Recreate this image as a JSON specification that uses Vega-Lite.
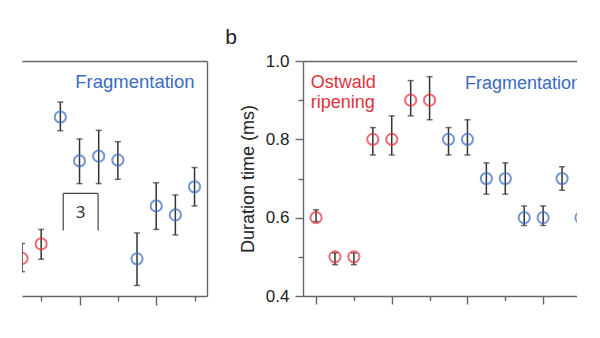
{
  "$schema": "https://vega.github.io/schema/vega-lite/v6.json",
  "padding": {"left": 22, "top": 27, "right": 0, "bottom": 0},
  "spacing": 18,
  "background": "white",
  "config": {
    "view": {"stroke": null},
    "font": "Liberation Sans",
    "axis": {
      "domainColor": "#666666", "tickColor": "#666666", "domainWidth": 1.4, "tickWidth": 1.4,
      "labelFont": "Liberation Sans", "labelFontSize": 17, "labelColor": "#222222",
      "titleFont": "Liberation Sans", "titleFontSize": 18, "titleFontWeight": "normal", "titleColor": "#222222",
      "grid": false
    },
    "title": {"font": "Liberation Sans", "fontSize": 21, "fontWeight": "normal", "color": "#222222"}
  },
  "datasets": {
    "a": [
      {"x": 0, "value": 0.496, "lo": 0.462, "hi": 0.534, "series": "Ostwald ripening"},
      {"x": 1, "value": 0.533, "lo": 0.494, "hi": 0.570, "series": "Ostwald ripening"},
      {"x": 2, "value": 0.857, "lo": 0.822, "hi": 0.895, "series": "Fragmentation"},
      {"x": 3, "value": 0.745, "lo": 0.687, "hi": 0.801, "series": "Fragmentation"},
      {"x": 4, "value": 0.757, "lo": 0.687, "hi": 0.823, "series": "Fragmentation"},
      {"x": 5, "value": 0.747, "lo": 0.698, "hi": 0.794, "series": "Fragmentation"},
      {"x": 6, "value": 0.495, "lo": 0.427, "hi": 0.561, "series": "Fragmentation"},
      {"x": 7, "value": 0.630, "lo": 0.570, "hi": 0.689, "series": "Fragmentation"},
      {"x": 8, "value": 0.607, "lo": 0.556, "hi": 0.658, "series": "Fragmentation"},
      {"x": 9, "value": 0.679, "lo": 0.630, "hi": 0.728, "series": "Fragmentation"}
    ],
    "b": [
      {"x": 1, "value": 0.6, "lo": 0.59, "hi": 0.62, "series": "Ostwald ripening"},
      {"x": 2, "value": 0.5, "lo": 0.48, "hi": 0.51, "series": "Ostwald ripening"},
      {"x": 3, "value": 0.5, "lo": 0.48, "hi": 0.51, "series": "Ostwald ripening"},
      {"x": 4, "value": 0.8, "lo": 0.76, "hi": 0.83, "series": "Ostwald ripening"},
      {"x": 5, "value": 0.8, "lo": 0.76, "hi": 0.86, "series": "Ostwald ripening"},
      {"x": 6, "value": 0.9, "lo": 0.86, "hi": 0.95, "series": "Ostwald ripening"},
      {"x": 7, "value": 0.9, "lo": 0.85, "hi": 0.96, "series": "Ostwald ripening"},
      {"x": 8, "value": 0.8, "lo": 0.76, "hi": 0.83, "series": "Fragmentation"},
      {"x": 9, "value": 0.8, "lo": 0.76, "hi": 0.85, "series": "Fragmentation"},
      {"x": 10, "value": 0.7, "lo": 0.66, "hi": 0.74, "series": "Fragmentation"},
      {"x": 11, "value": 0.7, "lo": 0.66, "hi": 0.74, "series": "Fragmentation"},
      {"x": 12, "value": 0.6, "lo": 0.58, "hi": 0.63, "series": "Fragmentation"},
      {"x": 13, "value": 0.6, "lo": 0.58, "hi": 0.63, "series": "Fragmentation"},
      {"x": 14, "value": 0.7, "lo": 0.67, "hi": 0.73, "series": "Fragmentation"},
      {"x": 15, "value": 0.6, "lo": 0.58, "hi": 0.63, "series": "Fragmentation"}
    ],
    "texta": [
      {"x": 9, "y": 0.932, "label": "Fragmentation", "series": "Fragmentation"}
    ],
    "textb": [
      {"x": 0.72, "y": 0.93, "label": "Ostwald", "series": "Ostwald ripening"},
      {"x": 0.72, "y": 0.879, "label": "ripening", "series": "Ostwald ripening"},
      {"x": 8.87, "y": 0.928, "label": "Fragmentation", "series": "Fragmentation"}
    ],
    "box": [
      {"x": 2.15, "x2": 3.97, "y": 0.662, "y2": 0.662},
      {"x": 2.15, "x2": 2.15, "y": 0.567, "y2": 0.662},
      {"x": 3.97, "x2": 3.97, "y": 0.567, "y2": 0.662}
    ],
    "boxlabel": [
      {"x": 3.06, "y": 0.612, "label": "3"}
    ]
  },
  "hconcat": [
    {
      "width": 185,
      "height": 235,
      "layer": [
        {
          "data": {"name": "a"},
          "mark": {"type": "rule", "color": "#333333", "strokeWidth": 1.5, "clip": true},
          "encoding": {
            "x": {"field": "x", "type": "quantitative", "scale": {"domain": [0, 9.65], "nice": false, "zero": false},
                  "axis": {"orient": "bottom", "values": [1, 3, 5, 7, 9], "labels": false, "title": null,
                           "tickSize": {"condition": {"test": "datum.value == 3 || datum.value == 7", "value": 9}, "value": 5}}},
            "y": {"field": "lo", "type": "quantitative", "scale": {"domain": [0.4, 1.0], "nice": false, "zero": false}, "axis": null},
            "y2": {"field": "hi"}
          }
        },
        {
          "data": {"name": "a"},
          "mark": {"type": "tick", "orient": "horizontal", "size": 6, "thickness": 1.5, "color": "#333333", "clip": true},
          "encoding": {
            "x": {"field": "x", "type": "quantitative", "scale": {"domain": [0, 9.65], "nice": false, "zero": false},
                  "axis": {"orient": "top", "ticks": false, "labels": false, "title": null}},
            "y": {"field": "lo", "type": "quantitative", "scale": {"domain": [0.4, 1.0], "nice": false, "zero": false},
                  "axis": {"orient": "right", "ticks": false, "labels": false, "title": null}}
          }
        },
        {
          "data": {"name": "a"},
          "mark": {"type": "tick", "orient": "horizontal", "size": 6, "thickness": 1.5, "color": "#333333", "clip": true},
          "encoding": {
            "x": {"field": "x", "type": "quantitative", "scale": {"domain": [0, 9.65], "nice": false, "zero": false}, "axis": null},
            "y": {"field": "hi", "type": "quantitative", "scale": {"domain": [0.4, 1.0], "nice": false, "zero": false}, "axis": null}
          }
        },
        {
          "data": {"name": "a"},
          "mark": {"type": "point", "shape": "circle", "filled": false, "size": 125, "strokeWidth": 2, "clip": true},
          "encoding": {
            "x": {"field": "x", "type": "quantitative", "scale": {"domain": [0, 9.65], "nice": false, "zero": false}, "axis": null},
            "y": {"field": "value", "type": "quantitative", "scale": {"domain": [0.4, 1.0], "nice": false, "zero": false}, "axis": null},
            "color": {"field": "series", "type": "nominal", "scale": {"domain": ["Ostwald ripening", "Fragmentation"], "range": ["#e0323e", "#3a6cc0"]}, "legend": null}
          }
        },
        {
          "data": {"name": "texta"},
          "mark": {"type": "text", "align": "right", "baseline": "alphabetic", "fontSize": 18.5, "font": "Liberation Sans"},
          "encoding": {
            "x": {"field": "x", "type": "quantitative", "scale": {"domain": [0, 9.65], "nice": false, "zero": false}, "axis": null},
            "y": {"field": "y", "type": "quantitative", "scale": {"domain": [0.4, 1.0], "nice": false, "zero": false}, "axis": null},
            "text": {"field": "label"},
            "color": {"field": "series", "type": "nominal", "scale": {"domain": ["Ostwald ripening", "Fragmentation"], "range": ["#e0323e", "#3a6cc0"]}, "legend": null}
          }
        },
        {
          "data": {"name": "box"},
          "mark": {"type": "rule", "color": "#444444", "strokeWidth": 1.2},
          "encoding": {
            "x": {"field": "x", "type": "quantitative", "scale": {"domain": [0, 9.65], "nice": false, "zero": false}, "axis": null},
            "x2": {"field": "x2"},
            "y": {"field": "y", "type": "quantitative", "scale": {"domain": [0.4, 1.0], "nice": false, "zero": false}, "axis": null},
            "y2": {"field": "y2"}
          }
        },
        {
          "data": {"name": "boxlabel"},
          "mark": {"type": "text", "align": "center", "baseline": "middle", "fontSize": 17, "font": "Noto Sans", "color": "#333333"},
          "encoding": {
            "x": {"field": "x", "type": "quantitative", "scale": {"domain": [0, 9.65], "nice": false, "zero": false}, "axis": null},
            "y": {"field": "y", "type": "quantitative", "scale": {"domain": [0.4, 1.0], "nice": false, "zero": false}, "axis": null},
            "text": {"field": "label"}
          }
        }
      ],
      "resolve": {"axis": {"x": "independent", "y": "independent"}}
    },
    {
      "width": 274,
      "height": 235,
      "title": {"text": "b", "anchor": "start", "frame": "bounds", "dx": -14, "offset": 4},
      "layer": [
        {
          "data": {"name": "b"},
          "mark": {"type": "rule", "color": "#333333", "strokeWidth": 1.5, "clip": true},
          "encoding": {
            "x": {"field": "x", "type": "quantitative", "scale": {"domain": [0.31, 14.79], "nice": false, "zero": false},
                  "axis": {"orient": "bottom", "values": [1, 3, 5, 7, 9, 11, 13], "labels": false, "title": null,
                           "tickSize": {"condition": {"test": "datum.value == 1 || datum.value == 5 || datum.value == 9 || datum.value == 13", "value": 8}, "value": 4.5}}},
            "y": {"field": "lo", "type": "quantitative", "scale": {"domain": [0.4, 1.0], "nice": false, "zero": false},
                  "axis": {"orient": "left", "values": [0.4, 0.5, 0.6, 0.7, 0.8, 0.9, 1.0],
                           "labelExpr": "round(datum.value * 10) % 2 == 0 ? format(datum.value, '.1f') : ''",
                           "tickSize": {"condition": {"test": "round(datum.value * 10) % 2 == 0", "value": 8}, "value": 5},
                           "labelPadding": 6, "labelOverlap": false,
                           "title": "Duration time (ms)", "titlePadding": 8}},
            "y2": {"field": "hi"}
          }
        },
        {
          "data": {"name": "b"},
          "mark": {"type": "tick", "orient": "horizontal", "size": 6, "thickness": 1.5, "color": "#333333", "clip": true},
          "encoding": {
            "x": {"field": "x", "type": "quantitative", "scale": {"domain": [0.31, 14.79], "nice": false, "zero": false},
                  "axis": {"orient": "top", "ticks": false, "labels": false, "title": null}},
            "y": {"field": "lo", "type": "quantitative", "scale": {"domain": [0.4, 1.0], "nice": false, "zero": false}, "axis": null}
          }
        },
        {
          "data": {"name": "b"},
          "mark": {"type": "tick", "orient": "horizontal", "size": 6, "thickness": 1.5, "color": "#333333", "clip": true},
          "encoding": {
            "x": {"field": "x", "type": "quantitative", "scale": {"domain": [0.31, 14.79], "nice": false, "zero": false}, "axis": null},
            "y": {"field": "hi", "type": "quantitative", "scale": {"domain": [0.4, 1.0], "nice": false, "zero": false}, "axis": null}
          }
        },
        {
          "data": {"name": "b"},
          "mark": {"type": "point", "shape": "circle", "filled": false, "size": 125, "strokeWidth": 2, "clip": true},
          "encoding": {
            "x": {"field": "x", "type": "quantitative", "scale": {"domain": [0.31, 14.79], "nice": false, "zero": false}, "axis": null},
            "y": {"field": "value", "type": "quantitative", "scale": {"domain": [0.4, 1.0], "nice": false, "zero": false}, "axis": null},
            "color": {"field": "series", "type": "nominal", "scale": {"domain": ["Ostwald ripening", "Fragmentation"], "range": ["#e0323e", "#3a6cc0"]}, "legend": null}
          }
        },
        {
          "data": {"name": "textb"},
          "mark": {"type": "text", "align": "left", "baseline": "alphabetic", "fontSize": 18, "font": "Liberation Sans", "clip": true},
          "encoding": {
            "x": {"field": "x", "type": "quantitative", "scale": {"domain": [0.31, 14.79], "nice": false, "zero": false}, "axis": null},
            "y": {"field": "y", "type": "quantitative", "scale": {"domain": [0.4, 1.0], "nice": false, "zero": false}, "axis": null},
            "text": {"field": "label"},
            "color": {"field": "series", "type": "nominal", "scale": {"domain": ["Ostwald ripening", "Fragmentation"], "range": ["#e0323e", "#3a6cc0"]}, "legend": null}
          }
        }
      ],
      "resolve": {"axis": {"x": "independent", "y": "independent"}}
    }
  ]
}
